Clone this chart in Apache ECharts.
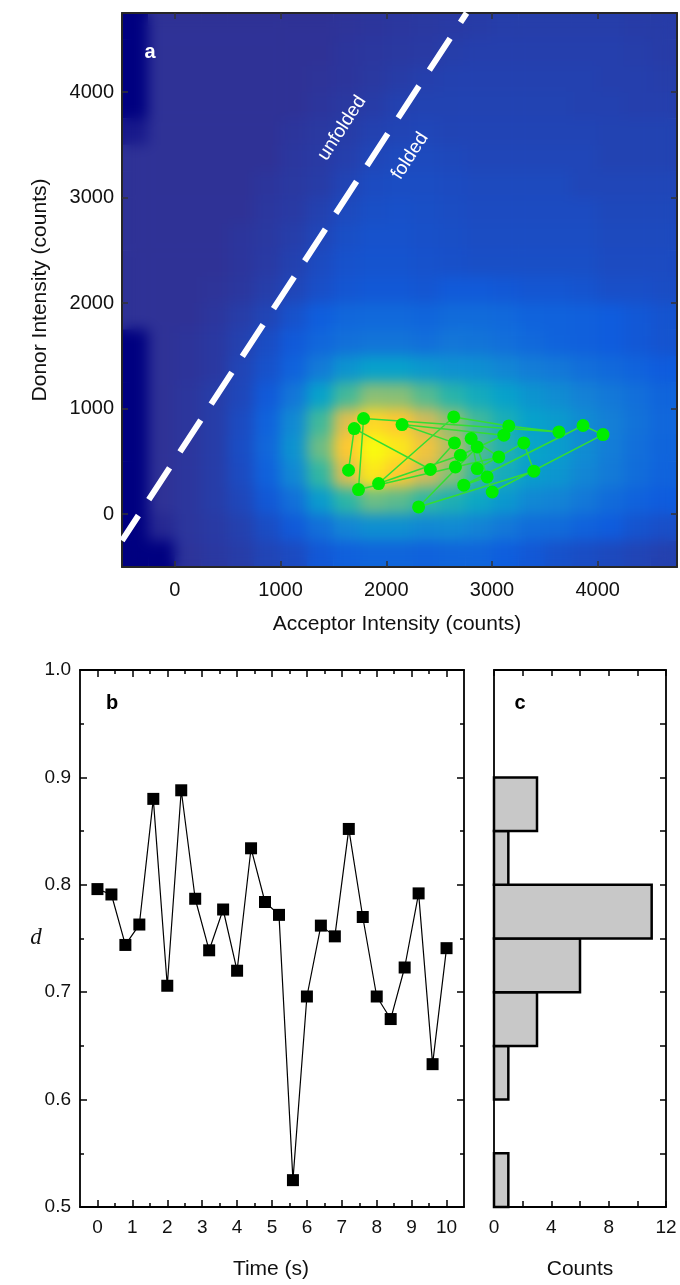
<!DOCTYPE html>
<html><head><meta charset="utf-8">
<script src="https://cdn.jsdelivr.net/npm/echarts@6/dist/echarts.min.js"></script>
<style>
html,body{margin:0;padding:0;background:#fff}
#wrap{position:relative;width:680px;height:1285px}
.heat{position:absolute;left:122px;top:13px;width:555px;height:554px}
#heatSoft{filter:url(#dup)}
#c{position:absolute;left:0;top:0;width:680px;height:1285px}
</style>
</head><body>
<svg width="0" height="0" style="position:absolute">
  <filter id="dup" x="0" y="0" width="100%" height="100%" color-interpolation-filters="sRGB">
    <feGaussianBlur stdDeviation="7" edgeMode="duplicate"/>
  </filter>
</svg>
<div id="wrap"><div id="heatBase" class="heat"></div><div id="heatSoft" class="heat"></div><div id="c"></div></div>
<script>
// ---------- Panel a: 2D density (rows top -> bottom, cells of 250 counts) ----------
const densityXCenters = [-375,-125,125,375,625,875,1125,1375,1625,1875,2125,2375,2625,2875,3125,3375,3625,3875,4125,4375,4625];
const densityYCenters = [-375,-125,125,375,625,875,1125,1375,1625,1875,2125,2375,2625,2875,3125,3375,3625,3875,4125,4375,4625];
const densityRows = [
 [0,1,1,1,1,1,1,1,1.04,1.08,1.12,1.16,1.2,1.24,1.28,1.28,1.28,1.28,1.28,1.24,1.24],
 [0,1,1,1,1,1,1,1,1.08,1.12,1.16,1.2,1.28,1.32,1.32,1.32,1.32,1.32,1.32,1.28,1.24],
 [0,1,1,1,1,1,1,1.04,1.08,1.16,1.24,1.32,1.36,1.36,1.36,1.36,1.36,1.36,1.32,1.32,1.28],
 [0,1,1,1,1,1,1,1.08,1.16,1.24,1.36,1.4,1.4,1.4,1.4,1.4,1.4,1.36,1.36,1.32,1.32],
 [0.5,1,1,1,1,1,1.08,1.16,1.24,1.36,1.44,1.48,1.44,1.44,1.44,1.44,1.44,1.44,1.4,1.4,1.4],
 [1,1,1,1,1,1,1.12,1.2,1.32,1.48,1.56,1.56,1.52,1.48,1.48,1.48,1.48,1.48,1.4,1.4,1.4],
 [1,1,1,1,1,1.08,1.16,1.24,1.44,1.6,1.64,1.64,1.6,1.56,1.56,1.56,1.56,1.48,1.48,1.48,1.48],
 [1,1,1,1,1,1.12,1.2,1.36,1.56,1.68,1.72,1.68,1.64,1.6,1.6,1.6,1.6,1.6,1.52,1.52,1.52],
 [1,1,1,1,1.08,1.16,1.28,1.48,1.68,1.76,1.76,1.72,1.68,1.64,1.64,1.64,1.64,1.64,1.56,1.56,1.56],
 [1,1,1,1,1.08,1.2,1.36,1.6,1.76,1.8,1.8,1.76,1.72,1.68,1.68,1.68,1.68,1.68,1.6,1.6,1.6],
 [1,1,1,1.04,1.12,1.28,1.48,1.7,1.85,1.9,1.9,1.85,1.95,1.95,1.9,1.85,1.85,1.8,1.7,1.7,1.65],
 [1.0,1.0,1.0,1.1,1.25,1.45,1.75,2.05,2.3,2.35,2.35,2.25,2.4,2.4,2.35,2.2,2.15,2.1,2.0,1.9,1.8],
 [0,1.0,1.05,1.15,1.35,1.65,1.95,2.3,2.55,2.65,2.65,2.5,2.7,2.65,2.5,2.35,2.2,2.1,2.0,1.9,1.8],
 [0,1.0,1.05,1.15,1.45,1.75,2.2,2.85,3.55,3.9,3.9,3.65,3.45,3.4,3.15,2.9,2.75,2.5,2.35,2.2,2.0],
 [0,1.0,1.1,1.25,1.5,1.95,2.7,3.95,5.25,6.05,6.0,5.45,4.85,4.35,3.95,3.55,3.3,3.0,2.75,2.5,2.25],
 [0,1.0,1.1,1.25,1.6,2.2,3.25,5.2,7.3,8.3,8.0,7.0,6.1,5.2,4.5,3.95,3.75,3.3,2.95,2.6,2.3],
 [0,1.0,1.1,1.25,1.65,2.3,3.5,5.7,8.0,9.0,8.6,7.7,6.6,5.4,4.7,4.05,3.8,3.3,2.9,2.5,2.25],
 [0,1.0,1.1,1.25,1.6,2.15,3.2,5.05,7.2,8.6,8.0,7.0,6.0,5.05,4.4,3.8,3.6,3.15,2.8,2.45,2.2],
 [0,1.0,1.1,1.25,1.5,1.9,2.55,3.75,4.95,5.7,5.5,5.0,4.6,4.15,3.65,3.2,3.05,2.75,2.4,2.15,2.0],
 [0,0.8,1.1,1.2,1.35,1.65,1.95,2.55,3.1,3.4,3.4,3.2,3.25,3.05,2.75,2.45,2.4,2.15,2.0,1.8,1.7],
 [0,0,1.05,1.15,1.25,1.45,1.6,1.9,2.1,2.25,2.25,2.15,2.25,2.25,2.05,1.9,1.75,1.65,1.55,1.45,1.35]
];
const densityColors = ['#000080','#2f3296','#0f5cdd','#1481d6','#06a4ca','#2eb7a4','#87bf77','#d1bb59','#fec832','#f9fb0e'];
// trajectory (time order)
const acceptor = [2954,2733,3861,4050,3002,2860,2306,3396,3301,2860,2803,3064,2654,1737,1785,3633,3159,2638,1927,2701,3112,2149,2645,2417,1697,1643];
const donor    = [354,275,841,755,211,638,69,408,676,433,718,543,448,234,907,780,837,922,291,559,749,850,676,424,812,417];
const boundaryAcceptor = [-500, 2760];
const boundaryDonor = [-250, 4750];
const aTickValues = [0,1000,2000,3000,4000];

// ---------- Panel b ----------
const timeS = [0,0.4,0.8,1.2,1.6,2.0,2.4,2.8,3.2,3.6,4.0,4.4,4.8,5.2,5.6,6.0,6.4,6.8,7.2,7.6,8.0,8.4,8.8,9.2,9.6,10.0];
const dValues = [0.796,0.791,0.744,0.763,0.880,0.706,0.888,0.787,0.739,0.777,0.720,0.834,0.784,0.772,0.525,0.696,0.762,0.752,0.852,0.770,0.696,0.675,0.723,0.792,0.633,0.741];
const timeMajorTicks = [0,1,2,3,4,5,6,7,8,9,10];
const timeMinorTicks = [0.5,1.5,2.5,3.5,4.5,5.5,6.5,7.5,8.5,9.5];

// ---------- Panel c ----------
const binLow = [0.50,0.55,0.60,0.65,0.70,0.75,0.80,0.85,0.90,0.95];
const binHigh = [0.55,0.60,0.65,0.70,0.75,0.80,0.85,0.90,0.95,1.00];
const binCounts = [1,0,1,3,6,11,1,3,0,0];

const FONT = '"Liberation Sans", Arial, Helvetica, sans-serif';

const heatData = [];
densityRows.forEach(function(row, r){
  const yi = densityRows.length - 1 - r;
  row.forEach(function(v, xi){ heatData.push([xi, yi, v]); });
});
const trajData = acceptor.map(function(a, i){ return [a, donor[i]]; });
const boundaryData = boundaryAcceptor.map(function(a, i){ return [a, boundaryDonor[i]]; });
const dData = timeS.map(function(t, i){ return [t, dValues[i]]; });
const histData = binLow.map(function(lo, i){ return [lo, binHigh[i], binCounts[i]]; });

// density map: sharp base layer + softened layer, each exactly covering panel a's plot area
const heatOption = {
  animation:false,
  grid:{left:0, top:0, right:0, bottom:0},
  xAxis:{type:'category', data:densityXCenters.map(String), show:false, boundaryGap:true},
  yAxis:{type:'category', data:densityYCenters.map(String), show:false, boundaryGap:true},
  visualMap:{type:'continuous', min:0, max:9, show:false, inRange:{color:densityColors}},
  series:[{type:'heatmap', data:heatData, progressive:0, emphasis:{disabled:true}, itemStyle:{borderWidth:0}}]
};
['heatBase','heatSoft'].forEach(function(id){
  const hc = echarts.init(document.getElementById(id), null, {renderer:'canvas', width:555, height:554});
  hc.setOption(heatOption);
});

const darkLine = {show:true, onZero:false, lineStyle:{color:'#262626', width:2}};
const blackLine = {show:true, onZero:false, lineStyle:{color:'#000', width:1.8}};
const noLabel = {show:false};
const noSplit = {show:false};
const aTick = {show:true, inside:true, length:6, customValues:aTickValues, lineStyle:{color:'#333', width:1.5}};

const option = {
  backgroundColor:'transparent',
  animation:false,
  grid:[
    {left:122, top:13, width:555, height:554},
    {left:80, top:670, width:384, height:537},
    {left:494, top:670, width:172, height:537}
  ],
  xAxis:[
    {type:'value', gridIndex:0, position:'bottom', min:-500, max:4750, axisLine:darkLine, axisTick:aTick,
      axisLabel:{show:true, customValues:aTickValues, margin:13, fontSize:20, color:'#111', fontFamily:FONT, formatter:function(v){return String(v);}},
      splitLine:noSplit},
    {type:'value', gridIndex:0, position:'top', min:-500, max:4750, axisLine:darkLine, axisTick:aTick, axisLabel:noLabel, splitLine:noSplit},
    {type:'value', gridIndex:1, position:'bottom', min:-0.5, max:10.5, axisLine:blackLine,
      axisTick:{show:true, inside:true, length:7, customValues:timeMajorTicks, lineStyle:{color:'#000', width:1.5}},
      axisLabel:{show:true, customValues:timeMajorTicks, margin:11, fontSize:19, color:'#111', fontFamily:FONT, formatter:function(v){return String(v);}},
      splitLine:noSplit},
    {type:'value', gridIndex:1, position:'bottom', min:-0.5, max:10.5, axisLine:{show:false, onZero:false},
      axisTick:{show:true, inside:true, length:4, customValues:timeMinorTicks, lineStyle:{color:'#000', width:1.5}},
      axisLabel:noLabel, splitLine:noSplit},
    {type:'value', gridIndex:1, position:'top', min:-0.5, max:10.5, axisLine:blackLine,
      axisTick:{show:true, inside:true, length:7, customValues:timeMajorTicks, lineStyle:{color:'#000', width:1.5}},
      axisLabel:noLabel, splitLine:noSplit},
    {type:'value', gridIndex:1, position:'top', min:-0.5, max:10.5, axisLine:{show:false, onZero:false},
      axisTick:{show:true, inside:true, length:4, customValues:timeMinorTicks, lineStyle:{color:'#000', width:1.5}},
      axisLabel:noLabel, splitLine:noSplit},
    {type:'value', gridIndex:2, position:'bottom', min:0, max:12, interval:2, axisLine:blackLine,
      axisTick:{show:true, inside:true, length:6, lineStyle:{color:'#000', width:1.5}},
      axisLabel:{show:true, margin:11, fontSize:19, color:'#111', fontFamily:FONT, formatter:function(v){return v % 4 === 0 ? String(v) : '';}},
      splitLine:noSplit},
    {type:'value', gridIndex:2, position:'top', min:0, max:12, interval:2, axisLine:blackLine,
      axisTick:{show:true, inside:true, length:6, lineStyle:{color:'#000', width:1.5}},
      axisLabel:noLabel, splitLine:noSplit}
  ],
  yAxis:[
    {type:'value', gridIndex:0, position:'left', min:-500, max:4750, axisLine:darkLine, axisTick:aTick,
      axisLabel:{show:true, customValues:aTickValues, margin:8, fontSize:20, color:'#111', fontFamily:FONT, formatter:function(v){return String(v);}},
      splitLine:noSplit},
    {type:'value', gridIndex:0, position:'right', min:-500, max:4750, axisLine:darkLine, axisTick:aTick, axisLabel:noLabel, splitLine:noSplit},
    {type:'value', gridIndex:1, position:'left', min:0.5, max:1.0, interval:0.1, axisLine:blackLine,
      axisTick:{show:true, inside:true, length:7, lineStyle:{color:'#000', width:1.5}},
      minorTick:{show:true, splitNumber:2, length:4, lineStyle:{color:'#000', width:1.5}},
      axisLabel:{show:true, margin:9, fontSize:19, color:'#111', fontFamily:FONT, formatter:function(v){return v.toFixed(1);}},
      splitLine:noSplit, minorSplitLine:{show:false}},
    {type:'value', gridIndex:1, position:'right', min:0.5, max:1.0, interval:0.1, axisLine:blackLine,
      axisTick:{show:true, inside:true, length:7, lineStyle:{color:'#000', width:1.5}},
      minorTick:{show:true, splitNumber:2, length:4, lineStyle:{color:'#000', width:1.5}},
      axisLabel:noLabel, splitLine:noSplit, minorSplitLine:{show:false}},
    {type:'value', gridIndex:2, position:'left', min:0.5, max:1.0, interval:0.05, axisLine:blackLine,
      axisTick:{show:false}, axisLabel:noLabel, splitLine:noSplit},
    {type:'value', gridIndex:2, position:'right', min:0.5, max:1.0, interval:0.05, axisLine:blackLine,
      axisTick:{show:true, inside:true, length:6, lineStyle:{color:'#000', width:1.5}},
      axisLabel:noLabel, splitLine:noSplit}
  ],
  series:[
    {type:'line', xAxisIndex:0, yAxisIndex:0, data:boundaryData, symbol:'none', clip:true, z:5,
      lineStyle:{color:'#ffffff', width:6, type:[38,19], dashOffset:8}},
    {type:'line', xAxisIndex:0, yAxisIndex:0, data:trajData, symbol:'circle', symbolSize:13, z:6,
      itemStyle:{color:'#00ee00'}, lineStyle:{color:'#33dd33', width:1.5}},
    {type:'line', xAxisIndex:2, yAxisIndex:2, data:dData, symbol:'rect', symbolSize:12, z:6,
      itemStyle:{color:'#000'}, lineStyle:{color:'#000', width:1.2}},
    {type:'custom', xAxisIndex:6, yAxisIndex:4, data:histData, z:3,
      encode:{x:2, y:[0,1]},
      renderItem:function(params, api){
        const lo = api.value(0), hi = api.value(1), n = api.value(2);
        if (!(n > 0)) return null;
        const p0 = api.coord([0, hi]);
        const p1 = api.coord([n, lo]);
        return {type:'rect', shape:{x:p0[0], y:p0[1], width:p1[0]-p0[0], height:p1[1]-p0[1]},
          style:{fill:'#c8c8c8', stroke:'#000', lineWidth:2.5}};
      }}
  ],
  graphic:[
    {type:'text', x:150, y:52, z:20, style:{text:'a', font:'bold 20px '+FONT, fill:'#fff', align:'center', verticalAlign:'middle'}},
    {type:'text', x:342, y:128, rotation:0.995, z:20, style:{text:'unfolded', font:'19px '+FONT, fill:'#fff', align:'center', verticalAlign:'middle'}},
    {type:'text', x:410, y:156, rotation:0.995, z:20, style:{text:'folded', font:'19px '+FONT, fill:'#fff', align:'center', verticalAlign:'middle'}},
    {type:'text', x:40, y:290, rotation:Math.PI/2, style:{text:'Donor Intensity (counts)', font:'21px '+FONT, fill:'#111', align:'center', verticalAlign:'middle'}},
    {type:'text', x:397, y:624, style:{text:'Acceptor Intensity (counts)', font:'21px '+FONT, fill:'#111', align:'center', verticalAlign:'middle'}},
    {type:'text', x:112, y:703, z:20, style:{text:'b', font:'bold 20px '+FONT, fill:'#000', align:'center', verticalAlign:'middle'}},
    {type:'text', x:520, y:703, z:20, style:{text:'c', font:'bold 20px '+FONT, fill:'#000', align:'center', verticalAlign:'middle'}},
    {type:'text', x:36, y:938, style:{text:'d', font:'italic 23px "Liberation Serif", "Times New Roman", serif', fill:'#111', align:'center', verticalAlign:'middle'}},
    {type:'text', x:271, y:1269, style:{text:'Time (s)', font:'21px '+FONT, fill:'#111', align:'center', verticalAlign:'middle'}},
    {type:'text', x:580, y:1269, style:{text:'Counts', font:'21px '+FONT, fill:'#111', align:'center', verticalAlign:'middle'}}
  ]
};
const chart = echarts.init(document.getElementById('c'), null, {renderer:'canvas', width:680, height:1285});
chart.setOption(option);
</script>
</body></html>
